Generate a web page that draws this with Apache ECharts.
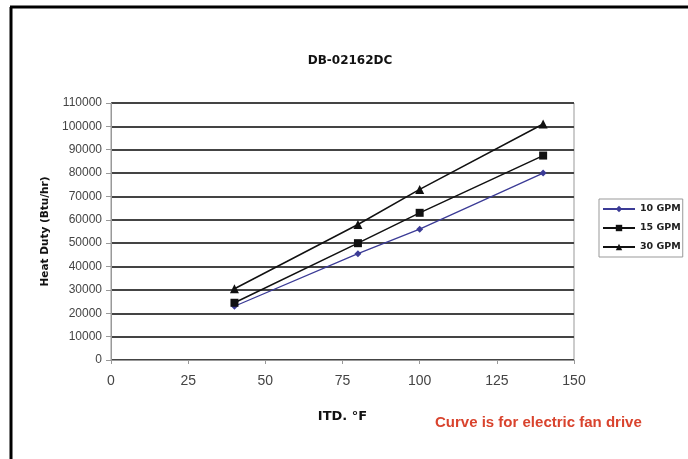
<!DOCTYPE html>
<html>
<head>
<meta charset="utf-8">
<script src="https://cdn.jsdelivr.net/npm/echarts@6/dist/echarts.min.js"></script>
<style>html,body{margin:0;padding:0;background:#fff;}#c{width:688px;height:459px;}</style>
</head>
<body>
<div id="c"></div>
<script>
var itd = [40, 80, 100, 140];
var gpm10 = [23000, 45500, 56000, 80000];
var gpm15 = [24500, 50000, 63000, 87500];
var gpm30 = [30500, 58000, 73000, 101000];
var seriesNames = ['10 GPM', '15 GPM', '30 GPM'];

function pairs(ys){ return itd.map(function(x,i){ return [x, ys[i]]; }); }

var chart = echarts.init(document.getElementById('c'));
var labelFont = 'DejaVu Sans';
chart.setOption({
  animation: false,
  backgroundColor: '#fff',
  title: {
    text: 'DB-02162DC', left: 345, top: 50, textAlign: 'center',
    textStyle: {fontFamily: labelFont, fontSize: 12, fontWeight: 'bold', color: '#111'}
  },
  grid: {left: 111, right: 114, top: 103, bottom: 99, show: true, borderColor: '#999', borderWidth: 1},
  legend: {
    orient: 'vertical', left: 599, top: 199,
    data: seriesNames,
    borderColor: '#999', borderWidth: 1, padding: [5, 2, 5, 3],
    itemWidth: 32, itemHeight: 8, itemGap: 9,
    textStyle: {fontFamily: labelFont, fontSize: 9.5, fontWeight: 'bold', color: '#222'}
  },
  xAxis: {
    type: 'value', min: 0, max: 150, interval: 25,
    name: 'ITD. \u00B0F', nameLocation: 'middle', nameGap: 50,
    nameTextStyle: {fontFamily: labelFont, fontSize: 13, fontWeight: 'bold', color: '#111'},
    axisLine: {lineStyle: {color: '#999', width: 1}},
    axisTick: {show: true, length: 4, lineStyle: {color: '#999'}},
    axisLabel: {fontFamily: 'Liberation Sans', fontSize: 14, color: '#444', margin: 14},
    splitLine: {show: false}
  },
  yAxis: {
    type: 'value', min: 0, max: 110000, interval: 10000,
    name: 'Heat Duty (Btu/hr)', nameLocation: 'middle', nameGap: 60, nameRotate: 90,
    nameTextStyle: {fontFamily: labelFont, fontSize: 10.5, fontWeight: 'bold', color: '#111'},
    axisLine: {show: true, lineStyle: {color: '#999', width: 1}},
    axisTick: {show: true, length: 5, lineStyle: {color: '#999'}},
    axisLabel: {fontFamily: 'Liberation Sans', fontSize: 12, color: '#444', margin: 9,
      formatter: function(v){ return String(v); }},
    splitLine: {show: true, lineStyle: {color: '#444', width: 2}}
  },
  graphic: [
    {type: 'line', shape: {x1: 11, y1: 7, x2: 11, y2: 459}, style: {stroke: '#000', lineWidth: 3}},
    {type: 'line', shape: {x1: 10, y1: 7, x2: 688, y2: 7}, style: {stroke: '#000', lineWidth: 3}},
    {type: 'text', left: 435, top: 415, style: {text: 'Curve is for electric fan drive', fontFamily: 'Liberation Sans', fontSize: 15, fontWeight: 'bold', fill: '#d9432d'}}
  ],
  series: [
    {name: seriesNames[0], type: 'line', data: pairs(gpm10), symbol: 'diamond', symbolSize: 7,
     lineStyle: {color: '#3b3b96', width: 1.3}, itemStyle: {color: '#3b3b96'}},
    {name: seriesNames[1], type: 'line', data: pairs(gpm15), symbol: 'rect', symbolSize: 8,
     lineStyle: {color: '#111', width: 1.5}, itemStyle: {color: '#111'}},
    {name: seriesNames[2], type: 'line', data: pairs(gpm30), symbol: 'triangle', symbolSize: 9,
     lineStyle: {color: '#111', width: 1.5}, itemStyle: {color: '#111'}}
  ]
});
</script>
</body>
</html>
